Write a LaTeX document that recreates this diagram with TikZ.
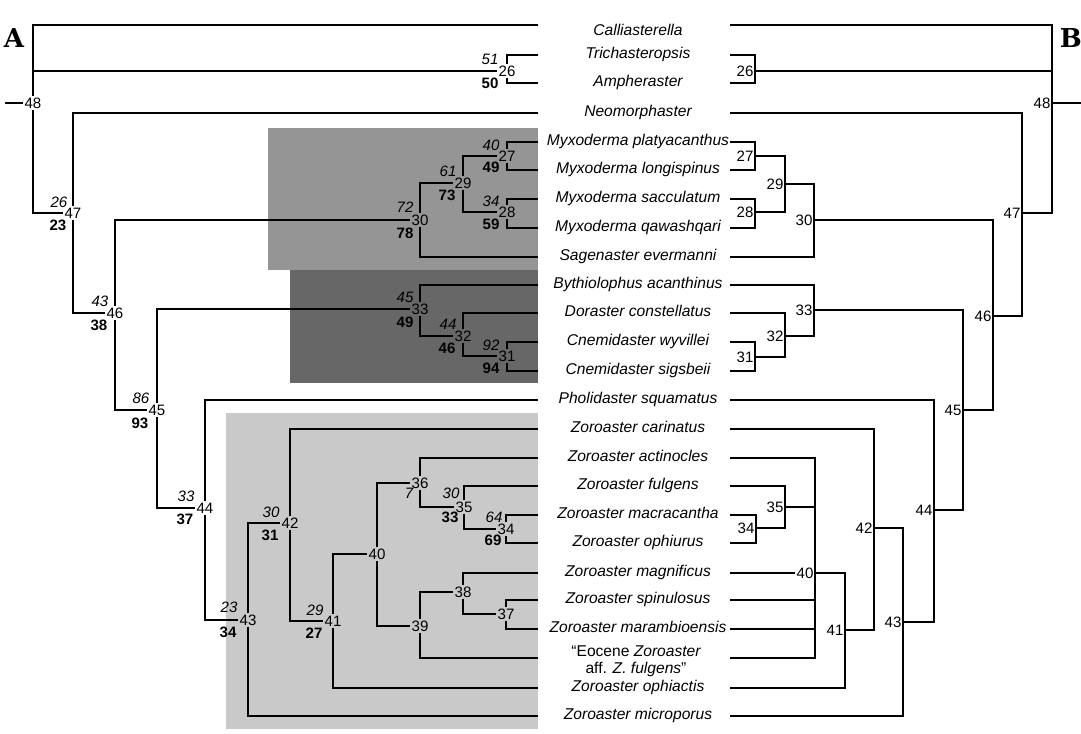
\documentclass[tikz,border=0pt]{standalone}
\usepackage{fontspec}
\setmainfont{Liberation Sans}
\newfontfamily\panelfont{DejaVu Serif}
\usetikzlibrary{positioning}
\definecolor{boxmid}{RGB}{149,149,149}
\definecolor{boxdark}{RGB}{103,103,103}
\definecolor{boxlight}{RGB}{201,201,201}
\tikzset{
  branch/.style={line width=1.4pt},
  taxon/.style={font=\fontsize{11.7}{14}\selectfont\itshape, inner sep=0pt, anchor=mid},
  num/.style={font=\fontsize{11.3}{13}\selectfont, inner sep=1pt},
  supi/.style={num, font=\fontsize{11.3}{13}\selectfont\itshape},
  supb/.style={num, font=\fontsize{11.3}{13}\selectfont\bfseries},
  panel/.style={font=\fontsize{19.5}{22}\selectfont\panelfont\bfseries, inner sep=0pt}
}
\begin{document}
\begin{tikzpicture}[x=0.75pt,y=0.75pt,yscale=-1,xscale=1]
\useasboundingbox (0,0) rectangle (1081,733);

%Shaded clades
\fill[boxmid] (268,128) rectangle (538,270);
\fill[boxdark] (290,270) rectangle (538,383);
\fill[boxlight] (226,413) rectangle (538,729);

%Panel letters
\node[panel] (pA) at (14,38) {A};
\node[panel, anchor=east] (pB) at (1082,38) {B};

%Ends of the terminal branches
\foreach \y [count=\i] in {25,55,83,113,142,170,199,228,257,285,313,342,371,400,429,458,486,515,543,573,600,629,658,688,716}{
  \coordinate (L\i) at (538,\y);
  \coordinate (R\i) at (730,\y);
}

%Taxa
\foreach \y/\txt [count=\i] in {32/Calliasterella,55/Trichasteropsis,83/Ampheraster,113/Neomorphaster,
  142/Myxoderma platyacanthus,170/Myxoderma longispinus,199/Myxoderma sacculatum,228/Myxoderma qawashqari,
  257/Sagenaster evermanni,285/Bythiolophus acanthinus,313/Doraster constellatus,342/Cnemidaster wyvillei,
  371/Cnemidaster sigsbeii,400/Pholidaster squamatus,429/Zoroaster carinatus,458/Zoroaster actinocles,
  486/Zoroaster fulgens,515/Zoroaster macracantha,543/Zoroaster ophiurus,573/Zoroaster magnificus,
  600/Zoroaster spinulosus,629/Zoroaster marambioensis}
  \node[taxon] (t\i) at (638,\y) {\txt};
\node[taxon, anchor=center, align=center] (t23) at (636,661) {{\upshape “Eocene} Zoroaster\\[-1pt]{\upshape aff.} Z. fulgens{\upshape ”}};
\node[taxon] (t24) at (638,688) {Zoroaster ophiactis};
\node[taxon] (t25) at (638,716) {Zoroaster microporus};

%% Tree A
\node[num] (A48) at (33,103) {48};
\node[num] (A26) at (507,71) {26};
\node[num] (A47) at (73,213) {47};
\node[num] (A46) at (115,313) {46};
\node[num] (A30) at (420,220) {30};
\node[num] (A29) at (463,183) {29};
\node[num] (A27) at (507,156) {27};
\node[num] (A28) at (507,212) {28};
\node[num] (A45) at (157,410) {45};
\node[num] (A33) at (420,309) {33};
\node[num] (A32) at (463,336) {32};
\node[num] (A31) at (507,356) {31};
\node[num] (A44) at (205,508) {44};
\node[num] (A43) at (248,620) {43};
\node[num] (A42) at (290,523) {42};
\node[num] (A41) at (333,621) {41};
\node[num] (A40) at (377,554) {40};
\node[num] (A36) at (420,483) {36};
\node[num] (A35) at (464,507) {35};
\node[num] (A34) at (506,529) {34};
\node[num] (A39) at (420,626) {39};
\node[num] (A38) at (463,592) {38};
\node[num] (A37) at (506,614) {37};

%Root stub
\coordinate (Aroot) at (5,103);
\draw[branch] (Aroot) -- (A48);

%Branches
\draw[branch] (A48) |- (L1);
\draw[branch] (A48) |- (A26);
\draw[branch] (A48) |- (A47);
\draw[branch] (A26) |- (L2);
\draw[branch] (A26) |- (L3);
\draw[branch] (A47) |- (L4);
\draw[branch] (A47) |- (A46);
\draw[branch] (A46) |- (A30);
\draw[branch] (A46) |- (A45);
\draw[branch] (A30) |- (A29);
\draw[branch] (A30) |- (L9);
\draw[branch] (A29) |- (A27);
\draw[branch] (A29) |- (A28);
\draw[branch] (A27) |- (L5);
\draw[branch] (A27) |- (L6);
\draw[branch] (A28) |- (L7);
\draw[branch] (A28) |- (L8);
\draw[branch] (A45) |- (A33);
\draw[branch] (A45) |- (A44);
\draw[branch] (A33) |- (L10);
\draw[branch] (A33) |- (A32);
\draw[branch] (A32) |- (L11);
\draw[branch] (A32) |- (A31);
\draw[branch] (A31) |- (L12);
\draw[branch] (A31) |- (L13);
\draw[branch] (A44) |- (L14);
\draw[branch] (A44) |- (A43);
\draw[branch] (A43) |- (A42);
\draw[branch] (A43) |- (L25);
\draw[branch] (A42) |- (L15);
\draw[branch] (A42) |- (A41);
\draw[branch] (A41) |- (A40);
\draw[branch] (A41) |- (L24);
\draw[branch] (A40) |- (A36);
\draw[branch] (A40) |- (A39);
\draw[branch] (A36) |- (L16);
\draw[branch] (A36) |- (A35);
\draw[branch] (A35) |- (L17);
\draw[branch] (A35) |- (A34);
\draw[branch] (A34) |- (L18);
\draw[branch] (A34) |- (L19);
\draw[branch] (A39) |- (A38);
\draw[branch] (A39) |- (L23);
\draw[branch] (A38) |- (L20);
\draw[branch] (A38) |- (A37);
\draw[branch] (A37) |- (L21);
\draw[branch] (A37) |- (L22);

%Support values
\node[supi] (A26i) at ([shift={(-17,-12)}]A26) {51};
\node[supb] (A26b) at ([shift={(-17,12)}]A26) {50};
\node[supi] (A47i) at ([shift={(-14,-11)}]A47) {26};
\node[supb] (A47b) at ([shift={(-15,12)}]A47) {23};
\node[supi] (A46i) at ([shift={(-15,-12)}]A46) {43};
\node[supb] (A46b) at ([shift={(-16,12)}]A46) {38};
\node[supi] (A45i) at ([shift={(-16,-12)}]A45) {86};
\node[supb] (A45b) at ([shift={(-17,13)}]A45) {93};
\node[supi] (A30i) at ([shift={(-15,-13)}]A30) {72};
\node[supb] (A30b) at ([shift={(-15,13)}]A30) {78};
\node[supi] (A29i) at ([shift={(-15,-12)}]A29) {61};
\node[supb] (A29b) at ([shift={(-16,12)}]A29) {73};
\node[supi] (A27i) at ([shift={(-16,-11)}]A27) {40};
\node[supb] (A27b) at ([shift={(-16,11)}]A27) {49};
\node[supi] (A28i) at ([shift={(-16,-11)}]A28) {34};
\node[supb] (A28b) at ([shift={(-16,12)}]A28) {59};
\node[supi] (A33i) at ([shift={(-15,-12)}]A33) {45};
\node[supb] (A33b) at ([shift={(-15,13)}]A33) {49};
\node[supi] (A32i) at ([shift={(-15,-12)}]A32) {44};
\node[supb] (A32b) at ([shift={(-16,12)}]A32) {46};
\node[supi] (A31i) at ([shift={(-16,-11)}]A31) {92};
\node[supb] (A31b) at ([shift={(-16,12)}]A31) {94};
\node[supi] (A44i) at ([shift={(-19,-12)}]A44) {33};
\node[supb] (A44b) at ([shift={(-20,11)}]A44) {37};
\node[supi] (A43i) at ([shift={(-19,-13)}]A43) {23};
\node[supb] (A43b) at ([shift={(-20,12)}]A43) {34};
\node[supi] (A42i) at ([shift={(-19,-11)}]A42) {30};
\node[supb] (A42b) at ([shift={(-20,12)}]A42) {31};
\node[supi] (A41i) at ([shift={(-18,-11)}]A41) {29};
\node[supb] (A41b) at ([shift={(-19,12)}]A41) {27};
\node[supi] (A36i) at ([shift={(-11,10)}]A36) {7};
\node[supi] (A35i) at ([shift={(-13,-14)}]A35) {30};
\node[supb] (A35b) at ([shift={(-14,10)}]A35) {33};
\node[supi] (A34i) at ([shift={(-12,-12)}]A34) {64};
\node[supb] (A34b) at ([shift={(-13,11)}]A34) {69};

%% Tree B
\node[num, anchor=east] (B48) at (1052,103) {48};
\node[num, anchor=east] (B26) at (755,71) {26};
\node[num, anchor=east] (B47) at (1022,213) {47};
\node[num, anchor=east] (B46) at (993,316) {46};
\node[num, anchor=east] (B30) at (814,220) {30};
\node[num, anchor=east] (B29) at (785,184) {29};
\node[num, anchor=east] (B27) at (755,156) {27};
\node[num, anchor=east] (B28) at (755,212) {28};
\node[num, anchor=east] (B45) at (963,410) {45};
\node[num, anchor=east] (B33) at (814,310) {33};
\node[num, anchor=east] (B32) at (785,336) {32};
\node[num, anchor=east] (B31) at (755,357) {31};
\node[num, anchor=east] (B44) at (934,510) {44};
\node[num, anchor=east] (B43) at (903,622) {43};
\node[num, anchor=east] (B42) at (874,528) {42};
\node[num, anchor=east] (B41) at (845,630) {41};
\node[num, anchor=east] (B40) at (815,573) {40};
\node[num, anchor=east] (B35) at (785,507) {35};
\node[num, anchor=east] (B34) at (756,528) {34};

%Root stub
\coordinate (Broot) at (1081,103);
\draw[branch] (B48.east) -- (Broot);

%Branches
\draw[branch] (B48.east) |- (R1);
\draw[branch] (B48.east) |- (B26.east);
\draw[branch] (B48.east) |- (B47.east);
\draw[branch] (B26.east) |- (R2);
\draw[branch] (B26.east) |- (R3);
\draw[branch] (B47.east) |- (R4);
\draw[branch] (B47.east) |- (B46.east);
\draw[branch] (B46.east) |- (B30.east);
\draw[branch] (B46.east) |- (B45.east);
\draw[branch] (B30.east) |- (B29.east);
\draw[branch] (B30.east) |- (R9);
\draw[branch] (B29.east) |- (B27.east);
\draw[branch] (B29.east) |- (B28.east);
\draw[branch] (B27.east) |- (R5);
\draw[branch] (B27.east) |- (R6);
\draw[branch] (B28.east) |- (R7);
\draw[branch] (B28.east) |- (R8);
\draw[branch] (B45.east) |- (B33.east);
\draw[branch] (B45.east) |- (B44.east);
\draw[branch] (B33.east) |- (R10);
\draw[branch] (B33.east) |- (B32.east);
\draw[branch] (B32.east) |- (R11);
\draw[branch] (B32.east) |- (B31.east);
\draw[branch] (B31.east) |- (R12);
\draw[branch] (B31.east) |- (R13);
\draw[branch] (B44.east) |- (R14);
\draw[branch] (B44.east) |- (B43.east);
\draw[branch] (B43.east) |- (B42.east);
\draw[branch] (B43.east) |- (R25);
\draw[branch] (B42.east) |- (R15);
\draw[branch] (B42.east) |- (B41.east);
\draw[branch] (B41.east) |- (B40.east);
\draw[branch] (B41.east) |- (R24);
\draw[branch] (B40.east) |- (R16);
\draw[branch] (B40.east) |- (B35.east);
\draw[branch] (R20) -- (B40.west);
\draw[branch] (B40.east) |- (R21);
\draw[branch] (B40.east) |- (R22);
\draw[branch] (B40.east) |- (R23);
\draw[branch] (B35.east) |- (R17);
\draw[branch] (B35.east) |- (B34.east);
\draw[branch] (B34.east) |- (R18);
\draw[branch] (B34.east) |- (R19);

\end{tikzpicture}
\end{document}
